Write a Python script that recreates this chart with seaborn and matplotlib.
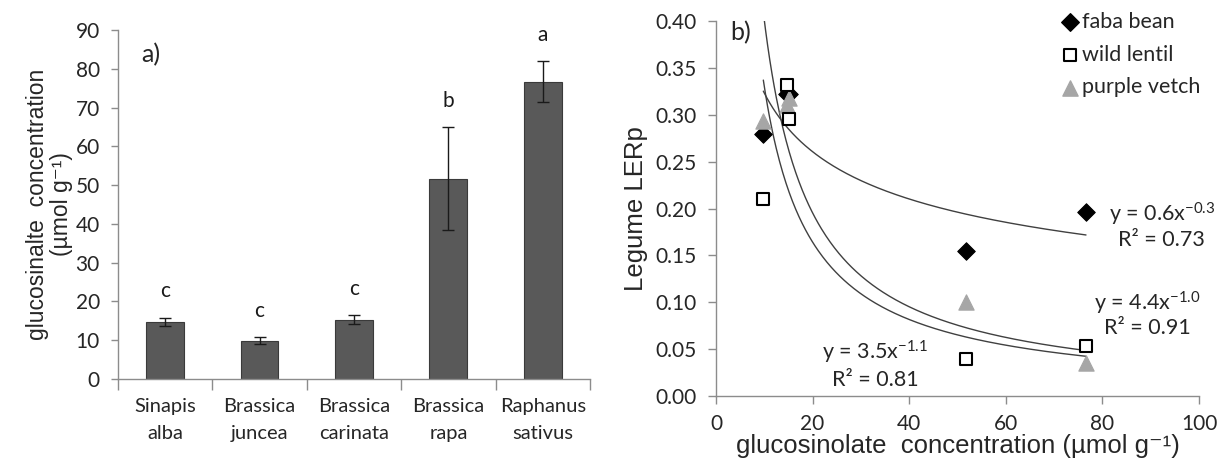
import numpy as np
import pandas as pd
import matplotlib
matplotlib.use("Agg")
import matplotlib.pyplot as plt
import seaborn as sns

# ---------------- data ----------------
species = ["Sinapis\nalba", "Brassica\njuncea", "Brassica\ncarinata", "Brassica\nrapa", "Raphanus\nsativus"]
gluc = [14.7, 9.8, 15.2, 51.7, 76.6]
gluc_err_low = [1.0, 0.8, 1.0, 13.2, 5.2]
gluc_err_high = [1.1, 1.0, 1.2, 13.3, 5.4]
letters = ["c", "c", "c", "b", "a"]

# LERp for each legume at the glucosinolate concentration of each species (same order as gluc)
faba_bean = [0.322, 0.280, 0.322, 0.155, 0.196]
wild_lentil = [0.332, 0.210, 0.295, 0.040, 0.053]
purple_vetch = [0.310, 0.293, 0.318, 0.100, 0.035]

eq_labels = {
    "faba bean": ("y = 0.6x$^{-0.3}$", "R² = 0.73"),
    "purple vetch": ("y = 4.4x$^{-1.0}$", "R² = 0.91"),
    "wild lentil": ("y = 3.5x$^{-1.1}$", "R² = 0.81"),
}

# ---------------- style ----------------
sns.set_theme(style="white")
plt.rcParams["font.family"] = ["Lato", "DejaVu Sans"]
plt.rcParams["mathtext.default"] = "regular"
txt = "#262626"
axc = "#8c8c8c"
lab_font = ["Liberation Sans", "DejaVu Sans"]

fig = plt.figure(figsize=(12.21, 4.63), dpi=100)
ax1 = fig.add_axes([0.0966, 0.1814, 0.3866, 0.7536])
ax2 = fig.add_axes([0.5864, 0.1447, 0.3956, 0.8099])

# ---------------- panel a ----------------
df = pd.DataFrame({"species": species, "gluc": gluc})
sns.barplot(data=df, x="species", y="gluc", color="#595959", width=0.4,
            edgecolor="#3a3a3a", linewidth=0.8, ax=ax1, errorbar=None)
xpos = np.arange(len(species))
ax1.errorbar(xpos, gluc, yerr=[gluc_err_low, gluc_err_high], fmt="none",
             ecolor="#1a1a1a", elinewidth=1.0, capsize=4, capthick=1.0)
for i, (v, e, l) in enumerate(zip(gluc, gluc_err_high, letters)):
    ax1.text(i, v + e + 6.8, l, ha="center", va="center", fontsize=15, color="#1a1a1a")

ax1.set_ylim(0, 90)
ax1.set_xlim(-0.5, 4.5)
ax1.set_yticks(np.arange(0, 91, 10))
ax1.set_xticks(xpos)
ax1.set_xticklabels(species, fontsize=14.5, color=txt, linespacing=1.65)
ax1.set_xticks(np.arange(-0.5, 5, 1), minor=True)
ax1.tick_params(axis="x", which="major", length=0, pad=14)
ax1.tick_params(axis="x", which="minor", length=8, width=1, color=axc, direction="out", bottom=True)
ax1.tick_params(axis="y", length=5, width=1, color=axc, direction="out", left=True, labelsize=15, labelcolor=txt, pad=8)
ax1.set_xlabel("")
ax1.set_ylabel("glucosinalte  concentration\n(µmol g⁻¹)", fontsize=16.5, color=txt, labelpad=2,
               linespacing=1.05, family=lab_font)
for s in ["top", "right"]:
    ax1.spines[s].set_visible(False)
for s in ["left", "bottom"]:
    ax1.spines[s].set_color(axc)
    ax1.spines[s].set_linewidth(1)
ax1.text(0.05, 0.93, "a)", transform=ax1.transAxes, fontsize=18, color=txt, va="center")

# ---------------- panel b ----------------
series = [
    ("faba bean", faba_bean, dict(marker="D", color="black", edgecolor="black", s=80)),
    ("purple vetch", purple_vetch, dict(marker="^", color="#a6a6a6", edgecolor="#a6a6a6", s=120)),
    ("wild lentil", wild_lentil, dict(marker="s", color="white", edgecolor="black", s=65, linewidth=1.5)),
]
xs = np.array(gluc)
xx = np.linspace(xs.min(), xs.max(), 300)
for name, vals, kw in series:
    b, lna = np.polyfit(np.log(xs), np.log(np.array(vals)), 1)
    sns.lineplot(x=xx, y=np.exp(lna) * xx ** b, color="#404040", linewidth=1.0, ax=ax2,
                 zorder=2, legend=False)
z = {"faba bean": 3, "purple vetch": 4, "wild lentil": 5}
handles = {}
for name, vals, kw in series:
    sns.scatterplot(x=gluc, y=vals, ax=ax2, zorder=z[name], **kw)
    h = ax2.scatter([], [], **kw)
    handles[name] = h

leg = ax2.legend([handles["faba bean"], handles["wild lentil"], handles["purple vetch"]],
                 ["faba bean", "wild lentil", "purple vetch"],
                 loc="upper left", bbox_to_anchor=(0.715, 1.025), frameon=False,
                 fontsize=15.5, labelspacing=0.6, handletextpad=0.15, handlelength=0.8,
                 borderaxespad=0, borderpad=0)
for t in leg.get_texts():
    t.set_color(txt)

ax2.set_xlim(0, 100)
ax2.set_ylim(0, 0.40)
ax2.set_xticks(np.arange(0, 101, 20))
ax2.set_yticks(np.arange(0, 0.401, 0.05))
ax2.set_yticklabels([f"{v:.2f}" for v in np.arange(0, 0.401, 0.05)])
ax2.tick_params(axis="both", length=6, width=1, color=axc, direction="out", bottom=True, left=True,
                labelsize=15, labelcolor=txt)
ax2.tick_params(axis="y", pad=8)
ax2.tick_params(axis="x", pad=7)
ax2.set_xlabel("glucosinolate  concentration (µmol g⁻¹)", fontsize=18.5, color=txt, labelpad=0,
               family=lab_font)
ax2.set_ylabel("Legume LERp", fontsize=18.5, color=txt, labelpad=5, family=lab_font)
for s in ["top", "right"]:
    ax2.spines[s].set_visible(False)
for s in ["left", "bottom"]:
    ax2.spines[s].set_color(axc)
    ax2.spines[s].set_linewidth(1)
ax2.text(0.03, 0.968, "b)", transform=ax2.transAxes, fontsize=18, color=txt, va="center")

eq_pos = {"faba bean": (92.3, 0.194, 0.166), "purple vetch": (89.4, 0.099, 0.0725),
          "wild lentil": (32.9, 0.046, 0.017)}
for name, (eq, r2) in eq_labels.items():
    x, y1, y2 = eq_pos[name]
    ax2.text(x, y1, eq, fontsize=15.5, color=txt, ha="center", va="center")
    ax2.text(x, y2, r2, fontsize=15.5, color=txt, ha="center", va="center")

fig.savefig("out.png", dpi=100)
